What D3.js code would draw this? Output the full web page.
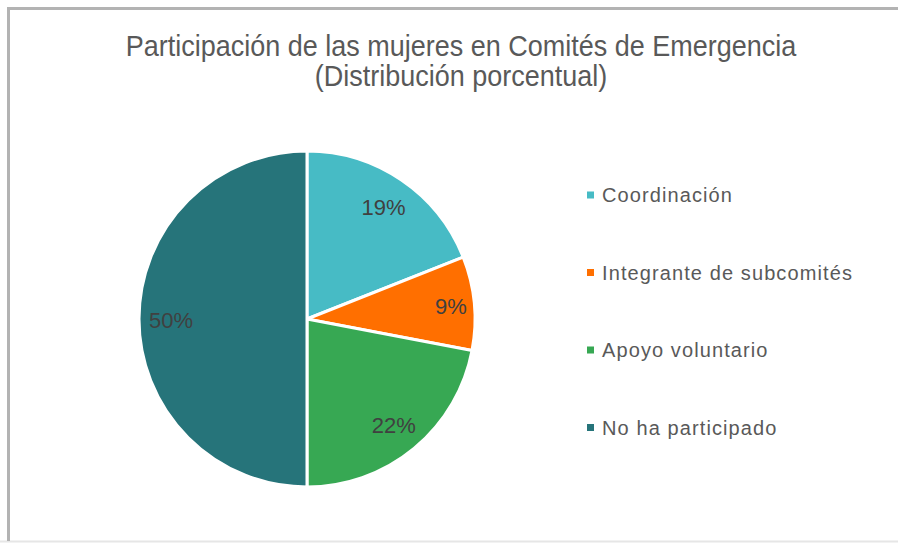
<!DOCTYPE html>
<html lang="es">
<head>
    <meta charset="UTF-8">
    <title>Participación de las mujeres</title>
    <style>
        body { margin: 0; background: #fff; }
        text { font-family: "Liberation Sans", Arial, sans-serif; }
    </style>
</head>
<body>
<div id="chart" style="width: 898px;height: 543px;"></div>

<script src="https://cdn.jsdelivr.net/npm/d3@7/dist/d3.min.js"></script>
<script>
    var categories = ["Coordinación", "Integrante de subcomités", "Apoyo voluntario", "No ha participado"];
    var values = [19, 9, 22, 50];
    var colors = ["#47bbc5", "#ff6f00", "#37a853", "#26747a"];
    var titleLines = ["Participación de las mujeres en Comités de Emergencia", "(Distribución porcentual)"];

    var width = 898, height = 543;
    var cx = 307, cy = 319, radius = 168;

    var svg = d3.select("#chart").append("svg")
        .attr("width", width)
        .attr("height", height);

    // frame
    svg.append("line").attr("x1", 0).attr("x2", width).attr("y1", 541.5).attr("y2", 541.5)
        .style("stroke", "#e6e6e6").style("stroke-width", 2);
    svg.append("path")
        .attr("d", "M8.5," + 541 + "V8.5H" + width)
        .style("fill", "none").style("stroke", "#b3b3b3").style("stroke-width", 3);

    // title (glyphs a bit taller than wide, like the original)
    svg.append("g").selectAll("text")
        .data(titleLines)
        .enter().append("text")
        .attr("transform", function (d, i) { return "translate(461," + (56 + i * 30) + ") scale(1,1.08)"; })
        .attr("text-anchor", "middle")
        .style("font-size", "27px")
        .style("fill", "#595959")
        .text(function (d) { return d; });

    // pie
    var pie = d3.pie().sort(null).value(function (d) { return d; });
    var arc = d3.arc().innerRadius(0).outerRadius(radius);

    var gPie = svg.append("g").attr("transform", "translate(" + cx + "," + cy + ")");
    var slices = pie(values);

    gPie.selectAll(".slice")
        .data(slices)
        .enter().append("path")
        .attr("class", "slice")
        .attr("d", arc)
        .style("fill", function (d, i) { return colors[i]; })
        .style("stroke", "#fff")
        .style("stroke-width", 3)
        .style("stroke-linejoin", "round");

    // small slices get their label pushed further out
    gPie.selectAll(".lbl")
        .data(slices)
        .enter().append("text")
        .attr("class", "lbl")
        .attr("transform", function (d) {
            var r = d.data < 10 ? radius * 0.86 : radius * 0.81;
            var c = d3.arc().innerRadius(r).outerRadius(r).centroid(d);
            return "translate(" + c[0] + "," + (c[1] + 9) + ")";
        })
        .attr("text-anchor", "middle")
        .style("font-size", "22px")
        .style("fill", "#404040")
        .text(function (d) { return d.data + "%"; });

    // legend
    var legend = svg.append("g").selectAll(".leg")
        .data(categories)
        .enter().append("g")
        .attr("class", "leg")
        .attr("transform", function (d, i) { return "translate(587," + (195 + i * 77.5) + ")"; });

    legend.append("rect")
        .attr("x", 0).attr("y", -3.5)
        .attr("width", 7).attr("height", 7)
        .style("fill", function (d, i) { return colors[i]; });

    legend.append("text")
        .attr("x", 15).attr("y", 7)
        .style("font-size", "20px")
        .style("letter-spacing", "1.1px")
        .style("fill", "#595959")
        .text(function (d) { return d; });
</script>
</body>
</html>
